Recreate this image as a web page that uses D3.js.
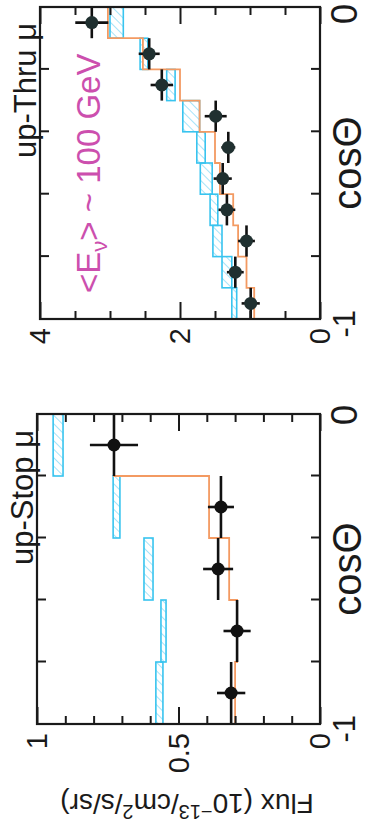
<!DOCTYPE html>
<html>
<head>
<meta charset="utf-8">
<script src="https://cdn.jsdelivr.net/npm/d3@7"></script>
<style>
  html, body { margin: 0; padding: 0; background: #fff; }
  svg { display: block; }
  text { font-family: "Liberation Sans", Arial, Helvetica, sans-serif; fill: #1a1a1a; }
</style>
</head>
<body>
<svg id="chart" width="373" height="829"></svg>
<script>
// ---------- up-going stopping muons (bins of 0.2 in cos zenith) ----------
const stopEdges    = [-1, -0.8, -0.6, -0.4, -0.2, 0];
const stopFlux     = [0.314, 0.293, 0.36, 0.35, 0.728];
const stopErr      = [0.05, 0.048, 0.053, 0.046, 0.085];
const stopMC       = [0.30, 0.293, 0.321, 0.392, 0.728];
const stopNoOscLo  = [0.555, 0.544, 0.59, 0.707, 0.908];
const stopNoOscHi  = [0.58, 0.562, 0.622, 0.731, 0.943];
const stopMajor    = [0, 0.5, 1];
const stopMinor    = [0.1, 0.2, 0.3, 0.4, 0.6, 0.7, 0.8, 0.9];
const stopTickText = ["0", "0.5", "1"];

// ---------- up-going through-going muons (bins of 0.1 in cos zenith) ----------
const thruEdges    = [-1, -0.9, -0.8, -0.7, -0.6, -0.5, -0.4, -0.3, -0.2, -0.1, 0];
const thruFlux     = [0.99, 1.21, 1.05, 1.33, 1.39, 1.31, 1.49, 2.26, 2.44, 3.26];
const thruErr      = [0.13, 0.12, 0.12, 0.12, 0.13, 0.10, 0.157, 0.16, 0.15, 0.236];
const thruMC       = [0.94, 1.05, 1.17, 1.24, 1.43, 1.50, 1.72, 2.0, 2.53, 3.03];
const thruNoOscLo  = [1.19, 1.26, 1.40, 1.46, 1.54, 1.64, 1.72, 2.07, 2.46, 2.81];
const thruNoOscHi  = [1.26, 1.40, 1.53, 1.57, 1.71, 1.76, 1.96, 2.19, 2.57, 3.00];
const thruMajor    = [0, 2, 4];
const thruMinor    = [0.5, 1, 1.5, 2.5, 3, 3.5];
const thruTickText = ["0", "2", "4"];

// cos(zenith) axis
const cosTicks = [-0.8, -0.6, -0.4, -0.2];

const svg = d3.select("#chart");

// hatch used inside the no-oscillation bands
const defs = svg.append("defs");
defs.append("pattern")
  .attr("id", "hatch")
  .attr("patternUnits", "userSpaceOnUse")
  .attr("width", 6).attr("height", 6)
  .attr("patternTransform", "rotate(45)")
  .append("line")
  .attr("x1", 0).attr("y1", 0).attr("x2", 0).attr("y2", 6)
  .attr("stroke", "#8fdcf6").attr("stroke-width", 1.6);

// The figure is laid out landscape (829 x 373) and turned a quarter turn
// so that it reads bottom-to-top on the portrait page.
const root = svg.append("g").attr("transform", "translate(0,829) rotate(-90)");

function panel(cfg) {
  const g = root.append("g");
  const x = d3.scaleLinear().domain([-1, 0]).range([cfg.x0, cfg.x1]);
  const y = d3.scaleLinear().domain([0, cfg.fmax]).range([cfg.y1, cfg.y0]);
  const n = cfg.flux.length;
  const bins = d3.range(n).map(i => ({
    lo: cfg.edges[i], hi: cfg.edges[i + 1],
    c: (cfg.edges[i] + cfg.edges[i + 1]) / 2,
    v: cfg.flux[i], e: cfg.err[i], mc: cfg.mc[i],
    nlo: cfg.noLo[i], nhi: cfg.noHi[i]
  }));

  // no-oscillation expectation with its uncertainty band
  g.append("g").selectAll("rect").data(bins).join("rect")
    .attr("x", d => x(d.lo))
    .attr("width", d => x(d.hi) - x(d.lo))
    .attr("y", d => y(d.nhi))
    .attr("height", d => y(d.nlo) - y(d.nhi))
    .attr("fill", "url(#hatch)")
    .attr("stroke", "#38c4ef")
    .attr("stroke-width", 1.6);

  // best-fit oscillated expectation as a step histogram
  const stepPts = bins.map(d => [d.lo, d.mc]).concat([[0, bins[n - 1].mc]]);
  g.append("path")
    .attr("d", d3.line().x(p => x(p[0])).y(p => y(p[1])).curve(d3.curveStepAfter)(stepPts))
    .attr("fill", "none")
    .attr("stroke", "#f39a62")
    .attr("stroke-width", 1.8);

  // data points with bin-width and statistical error bars
  const pts = g.append("g").selectAll("g").data(bins).join("g");
  pts.append("line")
    .attr("x1", d => x(d.lo)).attr("x2", d => x(d.hi))
    .attr("y1", d => y(d.v)).attr("y2", d => y(d.v))
    .attr("stroke", "#111").attr("stroke-width", 2.6);
  pts.append("line")
    .attr("x1", d => x(d.c)).attr("x2", d => x(d.c))
    .attr("y1", d => y(d.v - d.e)).attr("y2", d => y(d.v + d.e))
    .attr("stroke", "#111").attr("stroke-width", 2.6);
  pts.append("circle")
    .attr("cx", d => x(d.c)).attr("cy", d => y(d.v))
    .attr("r", 6.5)
    .attr("fill", cfg.dot);

  // frame
  g.append("rect")
    .attr("x", cfg.x0).attr("y", cfg.y0)
    .attr("width", cfg.x1 - cfg.x0).attr("height", cfg.y1 - cfg.y0)
    .attr("fill", "none").attr("stroke", "#1a1a1a").attr("stroke-width", 2.2);

  // inward ticks on all four sides
  const tickStyle = sel => {
    sel.select(".domain").remove();
    sel.selectAll(".tick line").attr("stroke", "#1a1a1a").attr("stroke-width", 2);
    sel.selectAll(".tick text").remove();
  };
  g.append("g").attr("transform", `translate(${cfg.x0},0)`)
    .call(d3.axisLeft(y).tickValues(cfg.minor).tickSize(-8)).call(tickStyle);
  g.append("g").attr("transform", `translate(${cfg.x1},0)`)
    .call(d3.axisRight(y).tickValues(cfg.minor).tickSize(-8)).call(tickStyle);
  g.append("g").attr("transform", `translate(${cfg.x0},0)`)
    .call(d3.axisLeft(y).tickValues(cfg.major).tickSize(-17)).call(tickStyle);
  g.append("g").attr("transform", `translate(${cfg.x1},0)`)
    .call(d3.axisRight(y).tickValues(cfg.major).tickSize(-17)).call(tickStyle);
  g.append("g").attr("transform", `translate(0,${cfg.y1})`)
    .call(d3.axisBottom(x).tickValues(cosTicks).tickSize(-9)).call(tickStyle);
  g.append("g").attr("transform", `translate(0,${cfg.y0})`)
    .call(d3.axisTop(x).tickValues(cosTicks).tickSize(-9)).call(tickStyle);

  // flux tick labels
  g.append("g").selectAll("text").data(cfg.major).join("text")
    .attr("x", cfg.x0 - 9)
    .attr("y", d => y(d))
    .attr("dy", "0.36em")
    .attr("text-anchor", "end")
    .attr("font-size", 29)
    .text((d, i) => cfg.tickText[i]);

  // cos tick labels
  g.append("text")
    .attr("x", Math.min(x(0) - 1, 815)).attr("y", cfg.y1 + 37)
    .attr("text-anchor", "middle").attr("font-size", 37)
    .text("0");
  g.append("text")
    .attr("x", x(-1) + 9).attr("y", cfg.y1 + 35)
    .attr("text-anchor", "end").attr("font-size", 31)
    .text("-1");

  // axis title along cos zenith
  g.append("text")
    .attr("x", (cfg.x0 + cfg.x1) / 2).attr("y", cfg.y1 + 41)
    .attr("text-anchor", "middle").attr("font-size", 40)
    .text("cosΘ");

  // panel title
  g.append("text")
    .attr("x", cfg.x1 - 16).attr("y", cfg.y0 - 4)
    .attr("text-anchor", "end").attr("font-size", 31)
    .text(cfg.title);

  return { g, x, y };
}

panel({
  x0: 105, x1: 415, y0: 37, y1: 320, fmax: 1,
  edges: stopEdges, flux: stopFlux, err: stopErr, mc: stopMC,
  noLo: stopNoOscLo, noHi: stopNoOscHi,
  major: stopMajor, minor: stopMinor, tickText: stopTickText,
  title: "up-Stop μ", dot: "#111"
});

const thru = panel({
  x0: 510, x1: 822, y0: 40, y1: 320, fmax: 4,
  edges: thruEdges, flux: thruFlux, err: thruErr, mc: thruMC,
  noLo: thruNoOscLo, noHi: thruNoOscHi,
  major: thruMajor, minor: thruMinor, tickText: thruTickText,
  title: "up-Thru μ", dot: "#203030"
});

// mean neutrino energy of the through-going sample
const eLab = thru.g.append("text")
  .attr("x", 536).attr("y", 100)
  .attr("font-size", 33)
  .style("fill", "#cc4fae");
eLab.append("tspan").text("<E");
eLab.append("tspan").attr("font-size", 22).attr("dy", 7).text("ν");
eLab.append("tspan").attr("dy", -7).text("> ~ 100 GeV");

// flux axis title, shared
const yt = root.append("text")
  .attr("transform", "translate(35,187) rotate(-90)")
  .attr("text-anchor", "middle")
  .attr("font-size", 28);
yt.append("tspan").text("Flux (10");
yt.append("tspan").attr("font-size", 20).attr("dy", -11).text("−13");
yt.append("tspan").attr("dy", 11).text("/cm");
yt.append("tspan").attr("font-size", 20).attr("dy", -11).text("2");
yt.append("tspan").attr("dy", 11).text("/s/sr)");
</script>
</body>
</html>
